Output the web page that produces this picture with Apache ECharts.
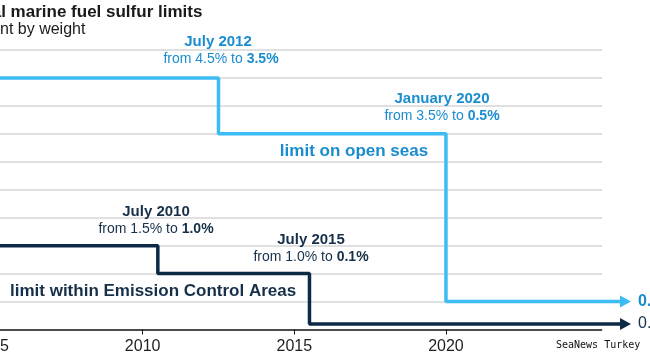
<!DOCTYPE html>
<html>
<head>
<meta charset="utf-8">
<script src="https://cdn.jsdelivr.net/npm/echarts@6/dist/echarts.min.js"></script>
<style>html,body{margin:0;padding:0;background:#fff}#c{width:650px;height:360px}</style>
</head>
<body>
<div id="c"></div>
<script>
// ---- data ----
const openSeasYears = [2004, 2012.5, 2012.5, 2020, 2020, 2025.92];
const openSeasLimit = [4.5, 4.5, 3.5, 3.5, 0.5, 0.5];
const ecaYears = [2004, 2010.5, 2010.5, 2015.5, 2015.5, 2025.92];
const ecaLimit = [1.5, 1.5, 1.0, 1.0, 0.1, 0.1];
const xTickYears = [2005, 2010, 2015, 2020];
const gridValues = [0.5, 1, 1.5, 2, 2.5, 3, 3.5, 4, 4.5, 5];
const xStart = 2004;
const xGridEnd = 2025.15;
const xEnd = 2025.92;
const openSeasEndLabel = '0.5%';
const ecaEndLabel = '0.1%';

const FONT = "'Liberation Sans', Arial, sans-serif";
const BLUE_LINE = '#3cbcf2';
const BLUE_TEXT = '#1a8dd0';
const NAVY_LINE = '#0c2a45';
const NAVY_TEXT = '#17304a';

function buildData(xs, ys, endLabel, color, bold) {
  return xs.map((x, i) => {
    const item = { value: [x, ys[i]] };
    if (i === xs.length - 1) {
      item.symbol = 'triangle';
      item.symbolSize = [12, 11];
      item.symbolRotate = -90;
      item.label = {
        show: true, position: 'right', distance: 7,
        formatter: endLabel, color: color,
        fontFamily: FONT, fontSize: 16, fontWeight: bold ? 'bold' : 'normal'
      };
    } else {
      item.symbol = 'none';
    }
    return item;
  });
}

const chart = echarts.init(document.getElementById('c'), null, { renderer: 'canvas' });

function txt(x, y, text, size, weight, color, rich) {
  const style = {
    text: text, fill: color, align: 'center', verticalAlign: 'middle',
    font: weight + ' ' + size + 'px ' + FONT
  };
  if (rich) style.rich = rich;
  return { type: 'text', x: x, y: y, style: style, z: 10 };
}
function richFrom(color) {
  return {
    a: { fontFamily: FONT, fontSize: 14, fontWeight: 'normal', fill: color, color: color },
    b: { fontFamily: FONT, fontSize: 14, fontWeight: 'bold', fill: color, color: color }
  };
}

chart.setOption({
  animation: false,
  backgroundColor: '#fff',
  grid: { left: -39.3, right: 24.5, top: 50, bottom: 30.5, containLabel: false, outerBoundsMode: 'none' },
  xAxis: {
    type: 'value', min: xStart, max: xEnd,
    axisLine: { show: false },
    axisTick: { show: true, customValues: xTickYears, length: 5, lineStyle: { color: '#111', width: 1 } },
    axisLabel: { customValues: xTickYears, fontFamily: FONT, fontSize: 16, color: '#1e1e1e', margin: 9,
      formatter: v => String(v) },
    splitLine: { show: false }
  },
  yAxis: {
    type: 'value', min: 0, max: 5, interval: 0.5,
    axisLine: { show: false }, axisTick: { show: false }, axisLabel: { show: false },
    splitLine: { show: false }
  },
  series: [
    {
      type: 'line', name: 'grid', z: 1, data: [], silent: true,
      markLine: {
        z: 1, silent: true, symbol: ['none', 'none'], label: { show: false }, animation: false,
        data: gridValues.map(v => [
          { coord: [xStart, v], lineStyle: { color: '#d6d6d6', width: 1.5, type: 'solid' } },
          { coord: [xGridEnd, v] }
        ]).concat([[
          { coord: [xStart, 0], lineStyle: { color: '#111', width: 1.5, type: 'solid' } },
          { coord: [xGridEnd, 0] }
        ]])
      }
    },
    {
      type: 'line', name: 'open seas', z: 3,
      data: buildData(openSeasYears, openSeasLimit, openSeasEndLabel, BLUE_TEXT, true),
      lineStyle: { color: BLUE_LINE, width: 3.5 }, itemStyle: { color: BLUE_LINE },
      showSymbol: true
    },
    {
      type: 'line', name: 'ECA', z: 4,
      data: buildData(ecaYears, ecaLimit, ecaEndLabel, NAVY_TEXT, false),
      lineStyle: { color: NAVY_LINE, width: 3.5 }, itemStyle: { color: NAVY_LINE },
      showSymbol: true
    }
  ],
  graphic: [
    { type: 'text', x: -47, y: 12, style: { text: 'Global marine fuel sulfur limits', fill: '#1a1a1a',
      font: 'bold 17px ' + FONT, verticalAlign: 'middle', align: 'left' } },
    { type: 'text', x: -40, y: 30, style: { text: 'percent by weight', fill: '#1a1a1a',
      font: 'normal 16px ' + FONT, verticalAlign: 'middle', align: 'left' } },

    txt(218, 42, 'July 2012', 15, 'bold', BLUE_TEXT),
    txt(221, 59, '{a|from 4.5% to }{b|3.5%}', 14, 'normal', BLUE_TEXT, richFrom(BLUE_TEXT)),
    txt(442, 99, 'January 2020', 15, 'bold', BLUE_TEXT),
    txt(442, 116, '{a|from 3.5% to }{b|0.5%}', 14, 'normal', BLUE_TEXT, richFrom(BLUE_TEXT)),
    txt(354, 151, 'limit on open seas', 17, 'bold', BLUE_TEXT),

    txt(156, 212, 'July 2010', 15, 'bold', NAVY_TEXT),
    txt(156, 229, '{a|from 1.5% to }{b|1.0%}', 14, 'normal', NAVY_TEXT, richFrom(NAVY_TEXT)),
    txt(311, 240, 'July 2015', 15, 'bold', NAVY_TEXT),
    txt(311, 257, '{a|from 1.0% to }{b|0.1%}', 14, 'normal', NAVY_TEXT, richFrom(NAVY_TEXT)),
    { type: 'text', x: 10, y: 291, z: 10, style: { text: 'limit within Emission Control Areas', fill: NAVY_TEXT,
      font: 'bold 17px ' + FONT, verticalAlign: 'middle', align: 'left' } },

    { type: 'text', x: 556, y: 345, z: 10, style: { text: 'SeaNews Turkey', fill: '#111',
      font: 'normal 10px "DejaVu Sans Mono", monospace', verticalAlign: 'middle', align: 'left' } }
  ]
});
</script>
</body>
</html>
